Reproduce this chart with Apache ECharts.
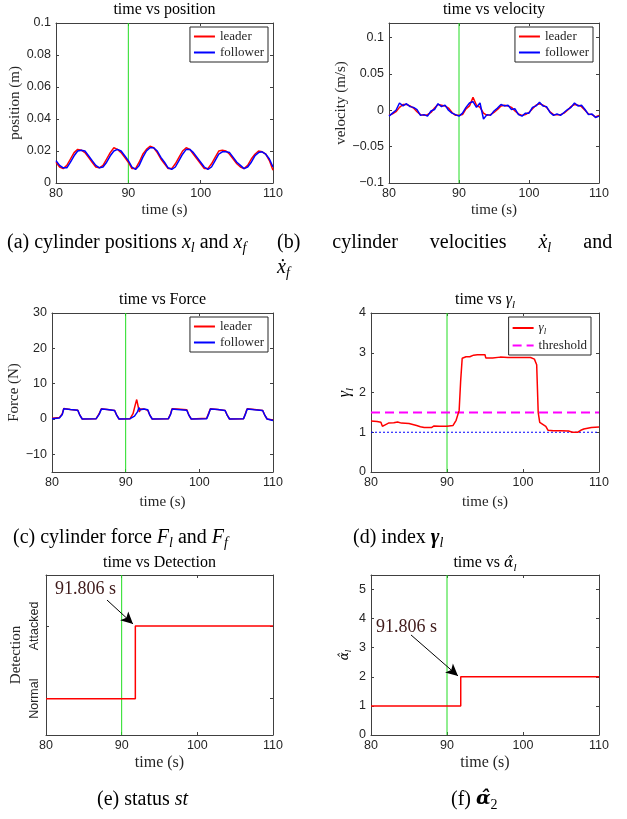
<!DOCTYPE html>
<html><head><meta charset="utf-8">
<script src="https://cdn.jsdelivr.net/npm/echarts@6/dist/echarts.min.js"></script>
<style>html,body{margin:0;padding:0;background:#fff}#c{width:627px;height:819px}</style>
</head><body><div id="c"></div>
<script>
// ---------------- data ----------------
const tHalf = [80,80.5,81,81.5,82,82.5,83,83.5,84,84.5,85,85.5,86,86.5,87,87.5,88,88.5,89,89.5,90,90.5,91,91.5,92,92.5,93,93.5,94,94.5,95,95.5,96,96.5,97,97.5,98,98.5,99,99.5,100,100.5,101,101.5,102,102.5,103,103.5,104,104.5,105,105.5,106,106.5,107,107.5,108,108.5,109,109.5,110];
const posLeader = [0.013,0.010,0.009,0.011,0.015,0.019,0.021,0.0205,0.019,0.016,0.013,0.010,0.0095,0.011,0.015,0.019,0.022,0.021,0.019,0.016,0.013,0.009,0.009,0.013,0.018,0.021,0.023,0.022,0.019,0.015,0.012,0.009,0.009,0.012,0.016,0.020,0.022,0.021,0.018,0.015,0.012,0.009,0.009,0.012,0.016,0.020,0.0205,0.020,0.018,0.015,0.012,0.010,0.009,0.011,0.015,0.018,0.020,0.0195,0.018,0.014,0.008];
const posFollower = [0.014,0.011,0.0095,0.0095,0.013,0.017,0.020,0.0205,0.020,0.017,0.014,0.011,0.0095,0.010,0.013,0.017,0.020,0.021,0.020,0.017,0.014,0.010,0.0085,0.011,0.016,0.020,0.022,0.022,0.020,0.016,0.013,0.0095,0.0085,0.010,0.014,0.018,0.021,0.021,0.019,0.016,0.013,0.010,0.0085,0.010,0.014,0.018,0.0195,0.0195,0.019,0.016,0.013,0.011,0.009,0.010,0.013,0.017,0.019,0.0195,0.018,0.015,0.010];
const velLeader = [-0.007,-0.005,-0.002,0.004,0.008,0.008,0.006,0.003,-0.002,-0.006,-0.007,-0.006,-0.003,0.003,0.008,0.007,0.006,0.003,-0.003,-0.007,-0.007,-0.006,0.002,0.006,0.018,0.007,0.004,-0.004,-0.007,-0.006,-0.003,0.001,0.006,0.007,0.006,0.004,-0.001,-0.005,-0.007,-0.006,-0.003,0.002,0.007,0.009,0.007,0.004,-0.002,-0.006,-0.006,-0.006,-0.004,0.000,0.005,0.008,0.007,0.005,0.000,-0.005,-0.006,-0.009,-0.007];
const velFollower = [-0.008,-0.004,0.000,0.010,0.006,0.009,0.005,0.004,0.001,-0.007,-0.006,-0.008,-0.001,0.001,0.009,0.005,0.007,0.000,-0.004,-0.006,-0.008,-0.004,0.004,0.010,0.012,0.004,0.010,-0.012,-0.006,-0.007,-0.001,0.003,0.008,0.006,0.007,0.001,0.002,-0.006,-0.008,-0.004,-0.004,0.004,0.006,0.011,0.006,0.005,-0.003,-0.007,-0.005,-0.007,-0.003,0.001,0.004,0.010,0.006,0.007,0.001,-0.006,-0.005,-0.010,-0.008];
const forceLeaderT = [80,81.0,81.4,81.6,82.5,83.5,83.8,84.1,86.0,86.4,86.7,87.5,88.5,88.8,89.1,90.6,91.0,91.3,91.5,91.75,91.85,92.0,92.5,93.0,93.3,93.6,95.8,96.1,96.3,97.0,98.3,98.6,98.9,101.0,101.3,101.5,102.5,103.5,103.8,104.1,106.0,106.3,106.5,107.5,108.6,108.9,109.2,110];
const forceLeader  = [0.2,0.4,1.5,3.0,2.7,2.5,1.0,0.0,0.1,1.5,2.9,2.7,2.4,1.0,0.0,0.1,1.5,4.0,5.5,5.8,2.0,2.8,2.8,2.5,1.0,0.0,0.1,1.5,2.9,2.8,2.6,1.0,0.0,0.2,1.8,2.9,2.7,2.4,1.0,0.0,0.1,1.8,2.9,2.7,2.4,1.0,0.0,-0.3];
const forceFollowerT = [80,81.0,81.4,81.6,82.5,83.5,83.8,84.1,86.0,86.4,86.7,87.5,88.5,88.8,89.1,90.6,91.2,91.6,91.8,92.0,92.5,93.0,93.3,93.6,95.8,96.1,96.3,97.0,98.3,98.6,98.9,101.0,101.3,101.5,102.5,103.5,103.8,104.1,106.0,106.3,106.5,107.5,108.6,108.9,109.2,110];
const forceFollower  = [0.1,0.3,1.3,2.9,2.7,2.5,1.0,0.0,0.1,1.3,2.8,2.7,2.4,1.0,0.0,0.1,0.8,2.0,3.2,2.6,2.8,2.6,1.0,0.0,0.1,1.3,2.8,2.7,2.5,1.0,0.0,0.1,1.6,2.8,2.7,2.4,1.0,0.0,0.1,1.6,2.8,2.6,2.4,1.0,0.0,-0.4];
const gammaT = [80,80.8,81.3,81.5,81.8,82.3,83,83.5,84,85,85.2,86,86.5,87,88,88.3,89,90,90.8,91.2,91.6,91.8,92.0,92.5,93,93.5,94,95,95.1,96,97,98,99,100,101,101.5,101.8,102.0,102.2,102.6,103,103.3,104,105,106,106.5,107.2,107.6,108,109,110];
const gamma  = [1.28,1.27,1.25,1.15,1.18,1.23,1.24,1.26,1.23,1.22,1.17,1.17,1.14,1.12,1.12,1.16,1.15,1.15,1.17,1.3,1.55,2.3,2.86,2.9,2.9,2.94,2.95,2.95,2.87,2.87,2.89,2.88,2.88,2.88,2.88,2.84,2.7,1.5,1.25,1.2,1.15,1.05,1.04,1.04,1.03,1.0,1.0,1.05,1.08,1.12,1.13];
const thresholdT = [80,110], threshold = [1.5,1.5];
const unityT = [80,110], unity = [1,1];
const stepT = [80,91.806,91.806,110];
const detection = [0,0,1,1];
const alphaHat = [1,1,2,2];
const attackLineT = 90;
const arrowE = [[88.06,1.356],[91.5,1.027]], noteE = [81.2,1.507];
const arrowF = [[85.26,3.44],[91.45,2.03]], noteF = [80.66,3.71];
const noteText = '91.806 s';
const xTicks = [80,90,100,110];
const posTicks = [0,0.02,0.04,0.06,0.08,0.1];
const velTicks = [-0.1,-0.05,0,0.05,0.1];
const forceTicks = [-10,0,10,20,30];
const gammaTicks = [0,1,2,3,4];
const detTicks = [0,1], detLabels = ['Normal','Attacked'];
const alphaTicks = [0,1,2,3,4,5];

// ---------------- styles/layout ----------------
const AX = '#404040', TXT = '#262626';
const SANS = 'Liberation Sans', SERIF = 'Liberation Serif', MATH = 'DejaVu Serif';
const GREEN = '#22dd22', RED = '#ff0000', BLUE = '#0000ff';
const grids = [
  {left:56,top:23,width:217,height:160},
  {left:389,top:23,width:210,height:160},
  {left:52,top:313,width:221,height:159},
  {left:371,top:313,width:228,height:159},
  {left:46,top:575,width:227,height:160},
  {left:371,top:575,width:228,height:160}
];
const nameRich = {
  ti:{fontFamily:SERIF,fontSize:16,fontStyle:'italic',lineHeight:18,color:'#000'},
  ts:{fontFamily:SERIF,fontSize:11,fontStyle:'italic',lineHeight:10,padding:[9,0,0,0],color:'#000'},
  ti2:{fontFamily:MATH,fontSize:12,fontStyle:'italic',lineHeight:16,color:'#000'},
  ts2:{fontFamily:SERIF,fontSize:9,fontStyle:'italic',lineHeight:8,padding:[8,0,0,0],color:'#000'}
};
const yCfg = [
  {min:0,max:0.1,ticks:posTicks,name:'position (m)',gap:27},
  {min:-0.1,max:0.12,ticks:velTicks,name:'velocity (m/s)',gap:33},
  {min:-15,max:30,ticks:forceTicks,name:'Force (N)',gap:27},
  {min:0,max:4,ticks:gammaTicks,name:'{ti|γ}{ts|l}',gap:14},
  {min:-0.5,max:1.7,ticks:detTicks,name:'Detection',gap:22,labels:detLabels},
  {min:0,max:5.5,ticks:alphaTicks,name:'{ti2|α\u0302}{ts2|l}',gap:18}
];
const xNameGap = [20,20,23,23,20,20];
const xNameSize = [15,15,15,15,16,16];
const fmt = v => String(Math.round(v*1e6)/1e6).replace('-','\u2212');

const xAxis = [], yAxis = [];
grids.forEach((g,i)=>{
  const base = {type:'value',gridIndex:i,min:80,max:110,splitLine:{show:false},
    axisLine:{show:true,onZero:false,lineStyle:{color:AX,width:1}},
    axisTick:{show:true,inside:true,length:3,customValues:xTicks,lineStyle:{color:AX}}};
  xAxis.push(Object.assign({},base,{position:'bottom',
    axisLabel:{show:true,customValues:xTicks,margin:4,fontFamily:SANS,fontSize:12.5,color:TXT,formatter:fmt},
    name:'time (s)',nameLocation:'middle',nameGap:xNameGap[i],
    nameTextStyle:{fontFamily:SERIF,fontSize:xNameSize[i],color:TXT}}));
  xAxis.push(Object.assign({},base,{position:'top',axisLabel:{show:false}}));
  const c = yCfg[i];
  const yb = {type:'value',gridIndex:i,min:c.min,max:c.max,splitLine:{show:false},
    axisLine:{show:true,onZero:false,lineStyle:{color:AX,width:1}},
    axisTick:{show:true,inside:true,length:3,customValues:c.ticks,lineStyle:{color:AX}}};
  const lab = {show:true,customValues:c.ticks,margin:5,fontFamily:SANS,fontSize:12.5,color:TXT,
    formatter: c.labels ? (v => c.labels[c.ticks.indexOf(Math.round(v))]) : fmt};
  if (c.labels) { lab.rotate = 90; lab.margin = 5; }
  yAxis.push(Object.assign({},yb,{position:'left',axisLabel:lab,
    name:c.name,nameLocation:'middle',nameGap:c.gap,
    nameTextStyle:{fontFamily:SERIF,fontSize:15,color:TXT,rich:nameRich}}));
  yAxis.push(Object.assign({},yb,{position:'right',axisLabel:{show:false}}));
});

const pairs = (t,v) => t.map((x,k)=>[x,v[k]]);
function line(name,i,data,color,extra){
  return Object.assign({type:'line',name,xAxisIndex:2*i,yAxisIndex:2*i,data,symbol:'none',
    lineStyle:{color,width:1.5},itemStyle:{color},z:3},extra||{});
}
function arrowMark(arrow){
  return {silent:true,symbol:['none','arrow'],symbolSize:[9,12],label:{show:false},
    lineStyle:{color:'#000',type:'solid',width:1},
    data:[[{coord:arrow[0]},{coord:arrow[1]}]]};
}
function noteMark(pt){
  return {silent:true,symbol:'circle',symbolSize:0,itemStyle:{color:'transparent'},
    data:[{coord:pt,label:{show:true,formatter:noteText,position:'right',distance:0,
      fontFamily:SERIF,fontSize:18,color:'#3f1a1a'}}]};
}
const series = [];
grids.forEach((g,i)=>{
  series.push(line('attack',i,[[attackLineT,yCfg[i].min],[attackLineT,yCfg[i].max]],GREEN,
    {lineStyle:{color:GREEN,width:1},z:2}));
});
series.push(
  line('leader',0,pairs(tHalf,posLeader),RED),
  line('follower',0,pairs(tHalf,posFollower),BLUE),
  line('leader',1,pairs(tHalf,velLeader),RED),
  line('follower',1,pairs(tHalf,velFollower),BLUE),
  line('leader',2,pairs(forceLeaderT,forceLeader),RED),
  line('follower',2,pairs(forceFollowerT,forceFollower),BLUE),
  line('threshold',3,pairs(thresholdT,threshold),'#ff00ff',{lineStyle:{color:'#ff00ff',width:2,type:[9,5]}}),
  line('unity',3,pairs(unityT,unity),BLUE,{lineStyle:{color:BLUE,width:1,type:[2,2]}}),
  line('gamma',3,pairs(gammaT,gamma),RED,{z:4}),
  line('detection',4,pairs(stepT,detection),RED,{markLine:arrowMark(arrowE),markPoint:noteMark(noteE)}),
  line('alpha',5,pairs(stepT,alphaHat),RED,{markLine:arrowMark(arrowF),markPoint:noteMark(noteF)})
);
const legBase = {orient:'vertical',itemWidth:21,itemHeight:12,itemGap:3,padding:[3,4,3,3],
  borderColor:'#262626',borderWidth:1,backgroundColor:'#fff',selectedMode:false,
  itemStyle:{color:'rgba(0,0,0,0)',borderWidth:0,opacity:0},
  textStyle:{fontFamily:SERIF,fontSize:13,color:TXT,
    rich:{ti:{fontFamily:SERIF,fontSize:13,fontStyle:'italic',color:TXT,lineHeight:14},
          ts:{fontFamily:SERIF,fontSize:9,fontStyle:'italic',color:TXT,lineHeight:8,padding:[7,0,0,0]}}}};
const legend = [
  Object.assign({},legBase,{data:['leader','follower'],right:359,top:27}),
  Object.assign({},legBase,{data:['leader','follower'],right:34,top:27}),
  Object.assign({},legBase,{data:['leader','follower'],right:359,top:317}),
  Object.assign({},legBase,{data:['gamma','threshold'],right:36,top:317,
    formatter:n => n==='gamma' ? '{ti|γ}{ts|l}' : n})
];

// titles & captions as text
const tRich = {
  t:{fontFamily:SERIF,fontSize:16,lineHeight:20,fill:'#000'},
  ti:{fontFamily:SERIF,fontSize:16,lineHeight:20,fontStyle:'italic',fill:'#000'},
  tm:{fontFamily:MATH,fontSize:14,lineHeight:20,fontStyle:'italic',fill:'#000'},
  ts:{fontFamily:SERIF,fontSize:11,lineHeight:10,fontStyle:'italic',padding:[10,0,0,0],fill:'#000'}
};
const titles = [
  ['{t|time vs position}',164.5,10],
  ['{t|time vs velocity}',494,10],
  ['{t|time vs Force}',162.5,300],
  ['{t|time vs }{ti|γ}{ts|l}',485,300],
  ['{t|time vs Detection}',159.5,563],
  ['{t|time vs }{tm|α\u0302}{ts|l}',485,563]
];
const cRich = {
  n:{fontFamily:SERIF,fontSize:20,lineHeight:25,fill:'#000'},
  i:{fontFamily:SERIF,fontSize:20,lineHeight:25,fontStyle:'italic',fill:'#000'},
  bi:{fontFamily:SERIF,fontSize:21,lineHeight:25,fontStyle:'italic',fontWeight:'bold',fill:'#000'},
  bm:{fontFamily:MATH,fontSize:19,lineHeight:25,fontStyle:'italic',fontWeight:'bold',fill:'#000'},
  s:{fontFamily:SERIF,fontSize:14,lineHeight:12,fontStyle:'italic',padding:[12,0,0,0],fill:'#000'},
  sn:{fontFamily:SERIF,fontSize:14,lineHeight:12,padding:[12,0,0,0],fill:'#000'},
  g:{fontFamily:SERIF,fontSize:20,lineHeight:25,width:32,fill:'#000'}
};
const captions = [
  ['{n|(a) cylinder positions }{i|x}{s|l}{n| and }{i|x}{s|f}',7,230],
  ['{n|(b)}{g| }{n|cylinder}{g| }{n|velocities}{g| }{i|\u1E8B}{s|l}{g| }{n|and}\n{i|\u1E8B}{s|f}',277,230],
  ['{n|(c) cylinder force }{i|F}{s|l}{n| and }{i|F}{s|f}',13,525],
  ['{n|(d) index }{bi|γ}{s|l}',353,525],
  ['{n|(e) status }{i|st}',97,787],
  ['{n|(f) }{bm|α\u0302}{sn|2}',451,787]
];
const graphic = [];
titles.forEach(([text,x,y])=>graphic.push({type:'text',x,y,silent:true,
  style:{text,align:'center',verticalAlign:'middle',rich:tRich,fill:'#000'}}));
captions.forEach(([text,x,y])=>graphic.push({type:'text',x,y,silent:true,
  style:{text,align:'left',verticalAlign:'top',rich:cRich,fill:'#000'}}));

const chart = echarts.init(document.getElementById('c'),null,{renderer:'canvas'});
chart.setOption({animation:false,backgroundColor:'#fff',grid:grids,xAxis,yAxis,series,legend,graphic});
</script></body></html>
